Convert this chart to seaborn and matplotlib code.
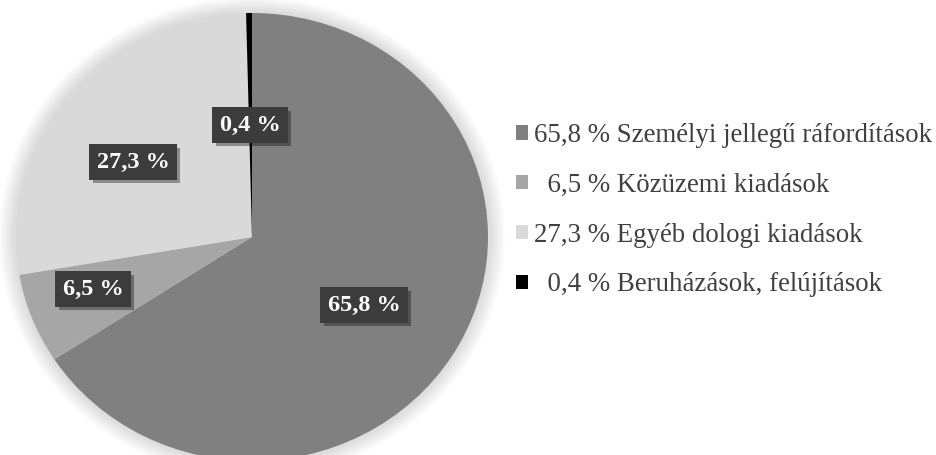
import matplotlib
matplotlib.use("Agg")
import matplotlib.pyplot as plt
import matplotlib.patheffects as pe
from matplotlib.patches import Ellipse, Patch
import seaborn as sns

# ---- data ----
categories = ["Személyi jellegű ráfordítások", "Közüzemi kiadások",
              "Egyéb dologi kiadások", "Beruházások, felújítások"]
values = [65.8, 6.5, 27.3, 0.4]
value_labels = ["65,8 %", "6,5 %", "27,3 %", "0,4 %"]
legend_numbers = ["65,8 %", "  6,5 %", "27,3 %", "  0,4 %"]

# ---- style ----
sns.set_theme(style="white")
plt.rcParams["font.family"] = ["Liberation Serif", "DejaVu Serif"]
colors = ["#808080", "#a6a6a6", "#d9d9d9", "#000000"]

W, H, DPI = 937, 455, 100
fig = plt.figure(figsize=(W / DPI, H / DPI), dpi=DPI)
fig.patch.set_facecolor("white")
ax = fig.add_axes([0, 0, 1, 1])

cx_px, cy_px = 252, 237      # pie centre (pixels from left / top)
rx_px, ry_px = 236, 224      # horizontal / vertical radius in pixels

# soft glow behind the pie
for k in range(12):
    grow = 1 + 0.006 * (k + 1)
    ax.add_patch(Ellipse((0, 0), 2 * grow, 2 * grow, facecolor="#a0a0a0",
                         edgecolor="none", alpha=0.03, zorder=0))

wedges, _ = ax.pie(values, colors=colors, startangle=90, counterclock=False,
                   radius=1, wedgeprops=dict(linewidth=0))
for w in wedges:
    w.set_zorder(2)

ax.set_aspect("auto")
ax.set_xlim(-cx_px / rx_px, (W - cx_px) / rx_px)
ax.set_ylim(-(H - cy_px) / ry_px, cy_px / ry_px)
ax.axis("off")

# data labels (annotation positions in pie units)
label_pos = [(0.475, -0.304), (-0.674, -0.232), (-0.504, 0.335), (-0.008, 0.50)]
for txt, (x, y) in zip(value_labels, label_pos):
    t = ax.text(x, y, txt, ha="center", va="center", color="white",
                fontsize=17.5, fontweight="bold", zorder=5,
                bbox=dict(boxstyle="square,pad=0.3", facecolor="#3c3c3c",
                          edgecolor="none"))
    t.get_bbox_patch().set_path_effects(
        [pe.SimplePatchShadow(offset=(2.5, -2.5), shadow_rgbFace="#000000", alpha=0.35),
         pe.Normal()])

# legend
handles = [Patch(facecolor=c, edgecolor="none") for c in colors]
labels = [f"{n} {c}" for n, c in zip(legend_numbers, categories)]
leg = fig.legend(handles, labels, loc="upper left",
                 bbox_to_anchor=(516 / W, 1 - 123 / H),
                 frameon=False, fontsize=19.4, handlelength=0.45, handleheight=0.45,
                 handletextpad=0.2, labelspacing=0.92, borderpad=0, borderaxespad=0)
for tx in leg.get_texts():
    tx.set_color("#404040")

fig.savefig("out.png", dpi=DPI, facecolor="white")
